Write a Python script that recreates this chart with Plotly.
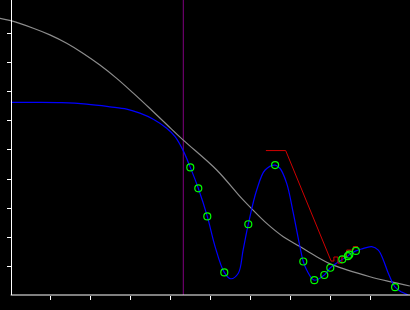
import plotly.graph_objects as go

# Grey reference curve
grey_x = [-0.27, 0.0, 0.565, 0.98, 1.40, 1.815, 2.23, 2.65, 3.065, 3.48, 3.90, 4.315,
          5.15, 5.775, 5.98, 6.40, 6.815, 7.23, 7.65, 8.065, 8.98, 9.48, 9.98]
grey_y = [9.54, 9.46, 9.20, 8.97, 8.68, 8.33, 7.93, 7.47, 6.96, 6.43, 5.88, 5.34,
          4.31, 3.33, 3.04, 2.47, 2.01, 1.67, 1.32, 1.03, 0.63, 0.46, 0.31]

# Blue interpolating curve
blue_x = [0.0, 0.61, 1.275, 1.90, 2.48, 2.90, 3.23, 3.565, 3.90, 4.11, 4.315,
          4.49, 4.69, 4.915, 5.11, 5.34, 5.50, 5.69, 5.81, 5.94, 6.15, 6.36, 6.61,
          6.73, 6.90, 7.065, 7.23, 7.315, 7.40, 7.59, 7.84, 7.99, 8.29, 8.43,
          8.465, 8.63, 8.78, 9.025, 9.19, 9.315, 9.44, 9.61, 9.775, 9.94]
blue_y = [6.64, 6.64, 6.63, 6.58, 6.49, 6.41, 6.27, 6.06, 5.75, 5.46, 4.97,
          4.40, 3.68, 2.71, 1.67, 0.78, 0.56, 0.75, 1.55, 2.44, 3.62, 4.31, 4.48,
          4.37, 3.85, 2.82, 1.67, 1.155, 0.86, 0.51, 0.69, 0.94, 1.23, 1.34,
          1.39, 1.52, 1.59, 1.67, 1.55, 1.21, 0.75, 0.27, 0.10, 0.0]

# Sample points (green circles)
pts_x = [4.49, 4.69, 4.915, 5.34, 5.94, 6.61, 7.315, 7.59, 7.84, 7.99, 8.29, 8.43, 8.465, 8.63, 9.61]
pts_y = [4.40, 3.68, 2.71, 0.78, 2.44, 4.48, 1.155, 0.51, 0.69, 0.94, 1.23, 1.34, 1.39, 1.52, 0.27]

# Red polyline
red_x = [6.38, 6.875, 8.01, 8.08, 8.08, 8.18, 8.18, 8.28, 8.28, 8.40, 8.40, 8.565, 8.565, 8.68]
red_y = [4.98, 4.98, 1.17, 1.17, 1.31, 1.31, 1.10, 1.10, 1.32, 1.32, 1.55, 1.55, 1.67, 1.67]

# Vertical marker line position
vline_x = 4.315

x_ticks = [1, 2, 3, 4, 5, 6, 7, 8, 9]
y_ticks = [1, 2, 3, 4, 5, 6, 7, 8, 9]
x_range = [-0.2675, 9.9825]
y_range = [0, 10.172]

fig = go.Figure()
fig.add_trace(go.Scatter(x=[vline_x, vline_x], y=y_range, mode="lines",
                         line=dict(color="#800080", width=1)))
fig.add_trace(go.Scatter(x=grey_x, y=grey_y, mode="lines", line_shape="spline",
                         line=dict(color="#8c8c8c", width=1.2)))
fig.add_trace(go.Scatter(x=blue_x, y=blue_y, mode="lines", line_shape="spline",
                         line=dict(color="#0000ff", width=1.2)))
fig.add_trace(go.Scatter(x=red_x, y=red_y, mode="lines",
                         line=dict(color="#d00000", width=1)))
fig.add_trace(go.Scatter(x=pts_x, y=pts_y, mode="markers",
                         marker=dict(symbol="circle-open", size=7, color="#00ff00",
                                     line=dict(width=1.2, color="#00ff00"))))

fig.update_layout(
    width=410, height=310,
    margin=dict(l=0, r=0, t=0, b=15),
    paper_bgcolor="black", plot_bgcolor="black",
    showlegend=False,
    xaxis=dict(range=x_range, showgrid=False, zeroline=False, showline=False,
               ticks="outside", tickvals=x_ticks, ticklen=4, tickwidth=1,
               tickcolor="white", showticklabels=False),
    yaxis=dict(range=y_range, showgrid=False, zeroline=False, showline=True,
               linecolor="white", linewidth=1, anchor="free", position=10.7 / 410,
               ticks="outside", tickvals=y_ticks, ticklen=4, tickwidth=1,
               tickcolor="white", showticklabels=False),
    shapes=[dict(type="line", xref="paper", yref="paper", x0=10.7 / 410, x1=1,
                 y0=0, y1=0, line=dict(color="white", width=1))],
)

fig.write_html("out.html")
